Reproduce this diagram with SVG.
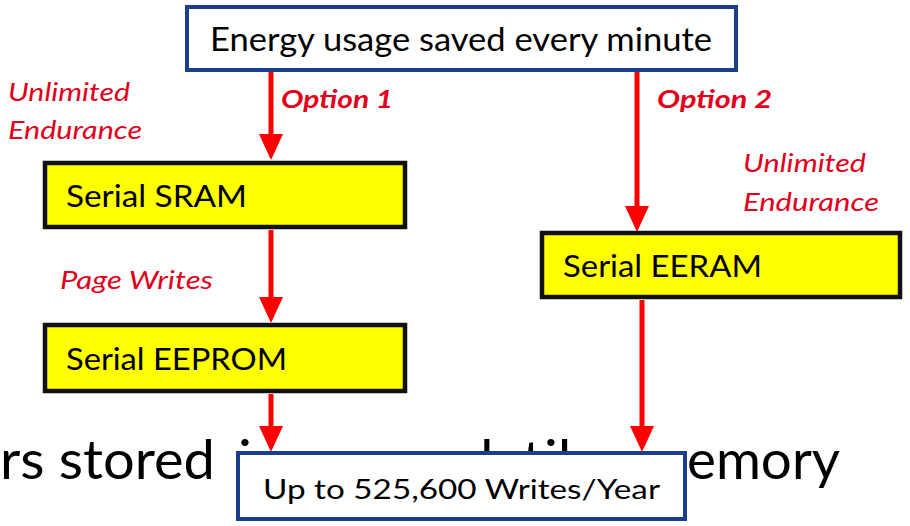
<svg xmlns="http://www.w3.org/2000/svg" width="910" height="526" viewBox="0 0 910 526">
<defs>
<marker id="ah" viewBox="0 0 26 24" refX="0" refY="12" markerWidth="26" markerHeight="24" markerUnits="userSpaceOnUse" orient="auto">
<path d="M0,0 L26,12 L0,24 z" fill="#ff0000"/>
</marker>
<clipPath id="above"><rect x="0" y="0" width="910" height="451"/></clipPath>
<style>
text{font-family:Lato,"Open Sans","Liberation Sans",sans-serif;}
.blue{fill:#ffffff;stroke:#1b3d8f;stroke-width:4;}
.yel{fill:#ffff00;stroke:#111111;stroke-width:4.5;}
.dark{fill:#000000;}
.bg{fill:#000000;font-size:55px;}
.lbl{fill:#e3001b;font-style:italic;font-size:26px;}
.opt{fill:#e3001b;font-style:italic;font-weight:bold;font-size:25px;}
.conn{stroke:#ff0000;stroke-width:5;fill:none;marker-end:url(#ah);}
</style>
</defs>
<rect width="910" height="526" fill="#ffffff"/>
<g id="background-text">
<text x="0" y="479" class="bg" textLength="215" lengthAdjust="spacingAndGlyphs">rs stored</text>
<g clip-path="url(#above)">
<text x="238" y="479" class="bg" textLength="243" lengthAdjust="spacingAndGlyphs">in non-vo</text>
<text x="480" y="479" class="bg" textLength="122" lengthAdjust="spacingAndGlyphs">latile</text>
</g>
<text x="687" y="479" class="bg" textLength="153" lengthAdjust="spacingAndGlyphs">emory</text>
</g>
<g id="connectors">
<path class="conn" d="M271,72 V134"/>
<path class="conn" d="M271,230 V297"/>
<path class="conn" d="M271,394 V426"/>
<path class="conn" d="M637,72 V206"/>
<path class="conn" d="M642,300 V426"/>
</g>
<g id="labels">
<text x="8" y="101" class="lbl" textLength="122" lengthAdjust="spacingAndGlyphs">Unlimited</text>
<text x="8" y="139" class="lbl" textLength="134" lengthAdjust="spacingAndGlyphs">Endurance</text>
<text x="281" y="108" class="opt" textLength="112" lengthAdjust="spacingAndGlyphs">Option 1</text>
<text x="657" y="108" class="opt" textLength="115" lengthAdjust="spacingAndGlyphs">Option 2</text>
<text x="743" y="172" class="lbl" textLength="123" lengthAdjust="spacingAndGlyphs">Unlimited</text>
<text x="743" y="211" class="lbl" textLength="136" lengthAdjust="spacingAndGlyphs">Endurance</text>
<text x="60" y="289" class="lbl" textLength="153" lengthAdjust="spacingAndGlyphs">Page Writes</text>
</g>
<g id="energy">
<rect x="187" y="7" width="549" height="63" class="blue"/>
<text x="210" y="51" font-size="32" class="dark" textLength="502" lengthAdjust="spacingAndGlyphs">Energy usage saved every minute</text>
</g>
<g id="sram">
<rect x="45" y="163" width="360" height="64" class="yel"/>
<text x="66" y="207" font-size="30" class="dark" textLength="181" lengthAdjust="spacingAndGlyphs">Serial SRAM</text>
</g>
<g id="eeprom">
<rect x="45" y="325" width="360" height="66" class="yel"/>
<text x="66" y="370" font-size="30" class="dark" textLength="221" lengthAdjust="spacingAndGlyphs">Serial EEPROM</text>
</g>
<g id="eeram">
<rect x="542" y="233" width="358" height="64" class="yel"/>
<text x="563" y="277" font-size="30" class="dark" textLength="199" lengthAdjust="spacingAndGlyphs">Serial EERAM</text>
</g>
<g id="writes">
<rect x="238" y="453" width="447" height="66" class="blue"/>
<text x="263" y="499" font-size="27" class="dark" textLength="397" lengthAdjust="spacingAndGlyphs">Up to 525,600 Writes/Year</text>
</g>
</svg>
